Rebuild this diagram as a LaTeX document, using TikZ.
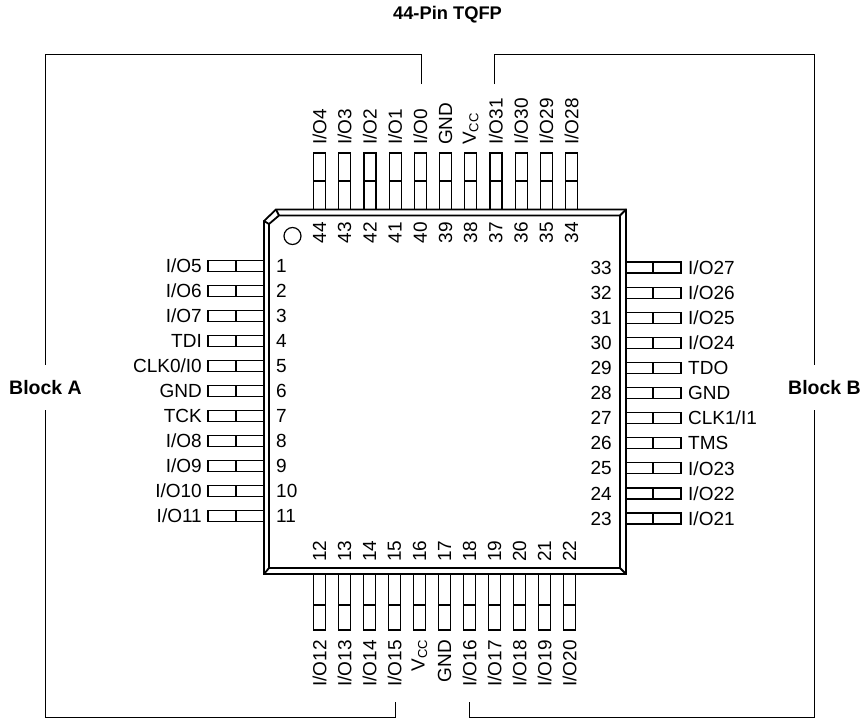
\documentclass[tikz,border=0pt]{standalone}
\usepackage{fontspec}
\setmainfont{Liberation Sans}
\newcommand{\vcc}{V\raisebox{-2.5pt}{\fontsize{13}{13}\selectfont CC}}
\tikzset{
    pinbody/.style={draw=black, line width=1.2pt},
    pkgline/.style={draw=black, line width=1.8pt},
    bracket/.style={draw=black, line width=1pt},
    pintext/.style={inner sep=0pt, font=\fontsize{19}{19}\selectfont},
    headtext/.style={inner sep=0pt, font=\fontsize{19.5}{20}\selectfont\bfseries}
}
\begin{document}
\begin{tikzpicture}[x=1pt,y=-1pt]
    \useasboundingbox (0,0) rectangle (862,718);
    % Title and block labels
    \node[headtext, font=\fontsize{18.3}{20}\selectfont\bfseries] (title) at (447.5,15) {44-Pin TQFP};
    \node[headtext] (blocka) at (45.5,388) {Block A};
    \node[headtext] (blockb) at (824.5,388) {Block B};
    % Brackets
    \draw[bracket] (421,84) -- (421,54) -- (45.5,54) -- (45.5,365);
    \draw[bracket] (45.5,410) -- (45.5,717) -- (395,717) -- (395,702);
    \draw[bracket] (494,84) -- (494,54) -- (814.5,54) -- (814.5,365);
    \draw[bracket] (814.5,410) -- (814.5,717) -- (469.5,717) -- (469.5,702);
    % Package
    \draw[pkgline] (276,209.5) -- (626,209.5) -- (626,574) -- (264,574) -- (264,221) -- cycle;
    \draw[pkgline] (279,215.5) -- (620,215.5) -- (620,568) -- (269,568) -- (269,224) -- cycle;
    \draw[pkgline] (276,209.5) -- (279,215.5) (264,221) -- (269,224);
    \draw[pkgline] (626,209.5) -- (620,215.5) (626,574) -- (620,568) (264,574) -- (269,568);
    \node[draw=black, line width=1.2pt, circle, minimum size=17pt, inner sep=0pt] (dot) at (292.5,236) {};
    % Left pins
    \foreach \n/\lab [count=\i from 0] in {1/I\slash O5,2/I\slash O6,3/I\slash O7,4/TDI,5/CLK0\slash I0,6/GND,7/TCK,8/I\slash O8,9/I\slash O9,10/I\slash O10,11/I\slash O11} {
        \pgfmathsetmacro{\py}{266+25*\i}
        \draw[pinbody] (264,\py-5.5) -- (208,\py-5.5) -- (208,\py+5.5) -- (264,\py+5.5);
        \draw[pinbody] (236,\py-5.5) -- (236,\py+5.5);
        \node[pintext, anchor=east] (ll\n) at (202,\py) {\lab};
        \node[pintext, anchor=west] (ln\n) at (276,\py) {\n};
    }
    % Right pins
    \foreach \n/\lab [count=\i from 0] in {23/I\slash O21,24/I\slash O22,25/I\slash O23,26/TMS,27/CLK1\slash I1,28/GND,29/TDO,30/I\slash O24,31/I\slash O25,32/I\slash O26,33/I\slash O27} {
        \pgfmathsetmacro{\py}{518.5-25.1*\i}
        \draw[pinbody] (626,\py-5.5) -- (681,\py-5.5) -- (681,\py+5.5) -- (626,\py+5.5);
        \draw[pinbody] (653,\py-5.5) -- (653,\py+5.5);
        \node[pintext, anchor=west] (rl\n) at (688,\py) {\lab};
        \node[pintext, anchor=east] (rn\n) at (612,\py) {\n};
    }
    % Top pins
    \foreach \n/\lab [count=\i from 0] in {44/I\slash O4,43/I\slash O3,42/I\slash O2,41/I\slash O1,40/I\slash O0,39/GND,38/\vcc,37/I\slash O31,36/I\slash O30,35/I\slash O29,34/I\slash O28} {
        \pgfmathsetmacro{\px}{319.5+25.2*\i}
        \draw[pinbody] (\px-6,209) -- (\px-6,153) -- (\px+6,153) -- (\px+6,209);
        \draw[pinbody] (\px-6,181) -- (\px+6,181);
        \node[pintext, rotate=90, anchor=west] (tl\n) at (\px,145) {\lab};
        \node[pintext, rotate=90, anchor=east] (tn\n) at (\px,222) {\n};
    }
    % Bottom pins
    \foreach \n/\lab [count=\i from 0] in {12/I\slash O12,13/I\slash O13,14/I\slash O14,15/I\slash O15,16/\vcc,17/GND,18/I\slash O16,19/I\slash O17,20/I\slash O18,21/I\slash O19,22/I\slash O20} {
        \pgfmathsetmacro{\px}{319.5+25*\i}
        \draw[pinbody] (\px-6,574) -- (\px-6,630) -- (\px+6,630) -- (\px+6,574);
        \draw[pinbody] (\px-6,605) -- (\px+6,605);
        \node[pintext, rotate=90, anchor=east] (bl\n) at (\px,640) {\lab};
        \node[pintext, rotate=90, anchor=west] (bn\n) at (\px,562) {\n};
    }
\end{tikzpicture}
\end{document}
